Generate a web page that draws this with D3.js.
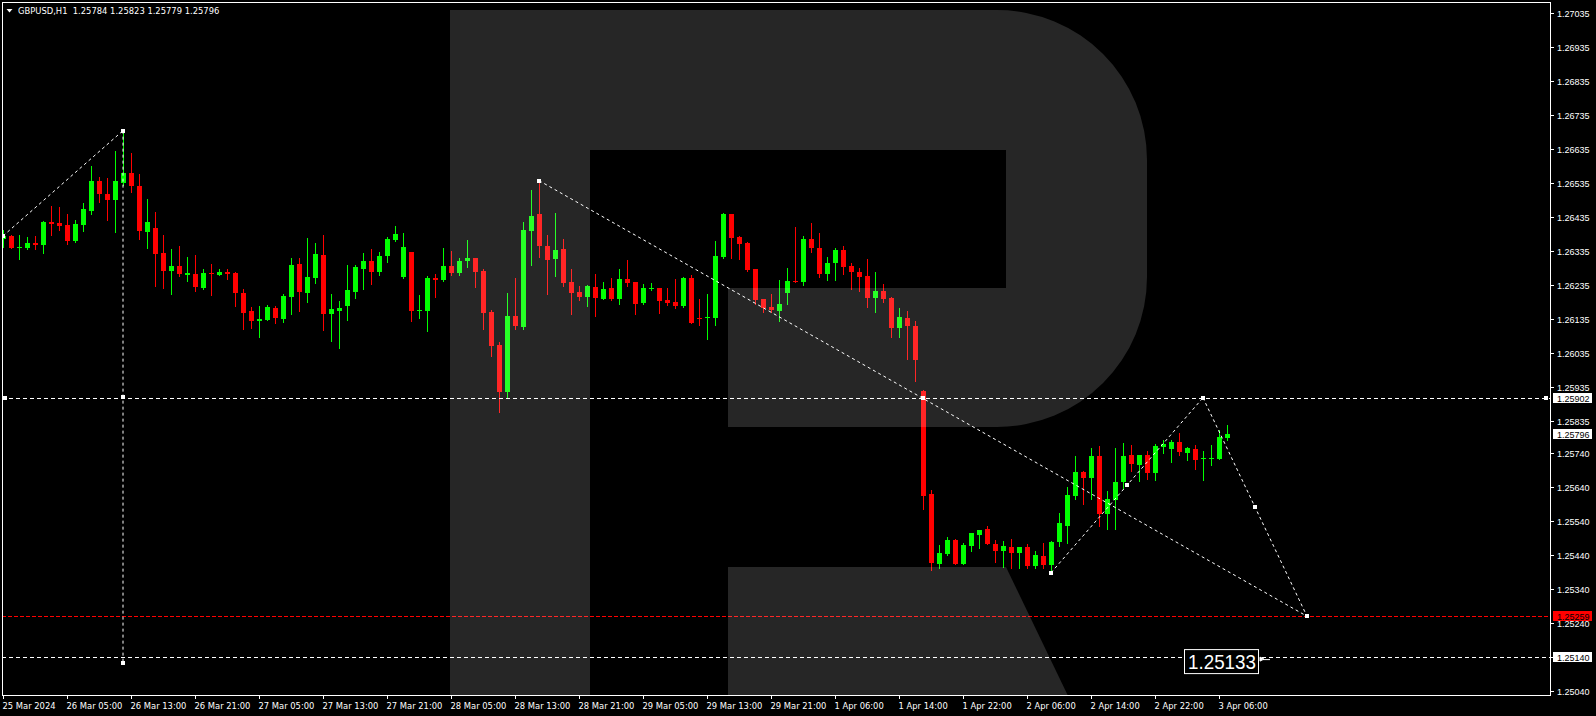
<!DOCTYPE html>
<html><head><meta charset="utf-8">
<script src="https://cdn.jsdelivr.net/npm/d3@7"></script>
<style>html,body{margin:0;padding:0;background:#000;overflow:hidden}</style>
</head><body>
<svg id="c" width="1596" height="716"></svg>
<script>
// ---- DATA (GBPUSD H1, 25 Mar 2024 21:00 -> 3 Apr 2024) ----
const opens = [1.26370,1.26378,1.26345,1.26343,1.26357,1.26352,1.26419,1.26416,1.26410,1.26364,
1.26411,1.26452,1.26540,1.26501,1.26485,1.26535,1.26563,1.26525,1.26391,1.26402,
1.26328,1.26276,1.26290,1.26263,1.26266,1.26226,1.26269,1.26264,1.26272,1.26269,
1.26210,1.26157,1.26129,1.26132,1.26166,1.26135,1.26199,1.26296,1.26211,1.26255,
1.26322,1.26147,1.26158,1.26173,1.26214,1.26282,1.26304,1.26273,1.26320,1.26366,
1.26257,1.26331,1.26158,1.26158,1.26255,1.26249,1.26290,1.26270,1.26305,1.26313,
1.26275,1.26154,1.26057,1.25920,1.26143,1.26111,1.26394,1.26443,1.26349,1.26311,
1.26340,1.26243,1.26213,1.26199,1.26228,1.26194,1.26225,1.26194,1.26252,1.26243,
1.26182,1.26224,1.26225,1.26190,1.26184,1.26173,1.26254,1.26137,1.26138,1.26138,
1.26316,1.26443,1.26375,1.26357,1.26281,1.26193,1.26169,1.26158,1.26211,1.26246,
1.26243,1.26369,1.26343,1.26267,1.26299,1.26337,1.26290,1.26272,1.26260,1.26196,
1.26216,1.26196,1.26108,1.26137,1.26113,1.25922,1.25619,1.25414,1.25443,1.25484,
1.25414,1.25467,1.25499,1.25516,1.25473,1.25452,1.25463,1.25444,1.25463,1.25408,
1.25437,1.25411,1.25478,1.25526,1.25614,1.25684,1.25667,1.25731,1.25561,1.25602,
1.25655,1.25734,1.25705,1.25734,1.25682,1.25758,1.25752,1.25772,1.25738,1.25752,
1.25722,1.25723,1.25723,1.25784];
const highs = [1.26396,1.26381,1.26381,1.26376,1.26378,1.26422,1.26466,1.26463,1.26443,1.26425,
1.26475,1.26584,1.26551,1.26549,1.26628,1.26688,1.26622,1.26560,1.26487,1.26449,
1.26381,1.26340,1.26349,1.26316,1.26322,1.26281,1.26296,1.26281,1.26281,1.26271,
1.26222,1.26169,1.26172,1.26174,1.26172,1.26207,1.26313,1.26313,1.26372,1.26357,
1.26381,1.26207,1.26187,1.26293,1.26293,1.26328,1.26340,1.26331,1.26375,1.26407,
1.26387,1.26332,1.26204,1.26260,1.26266,1.26343,1.26334,1.26313,1.26366,1.26314,
1.26281,1.26160,1.26066,1.26210,1.26254,1.26419,1.26513,1.26540,1.26381,1.26446,
1.26369,1.26281,1.26231,1.26234,1.26266,1.26243,1.26254,1.26281,1.26307,1.26244,
1.26237,1.26240,1.26226,1.26225,1.26252,1.26257,1.26263,1.26193,1.26207,1.26363,
1.26446,1.26444,1.26378,1.26359,1.26282,1.26194,1.26207,1.26249,1.26284,1.26404,
1.26378,1.26416,1.26387,1.26316,1.26343,1.26349,1.26299,1.26284,1.26310,1.26272,
1.26237,1.26198,1.26166,1.26157,1.26128,1.25925,1.25631,1.25469,1.25493,1.25487,
1.25475,1.25505,1.25514,1.25525,1.25484,1.25481,1.25487,1.25464,1.25472,1.25452,
1.25475,1.25481,1.25563,1.25640,1.25731,1.25687,1.25754,1.25760,1.25628,1.25754,
1.25769,1.25763,1.25735,1.25746,1.25766,1.25778,1.25778,1.25799,1.25757,1.25763,
1.25746,1.25763,1.25807,1.25823];
const lows = [1.26347,1.26342,1.26311,1.26341,1.26341,1.26329,1.26381,1.26397,1.26355,1.26361,
1.26394,1.26444,1.26479,1.26426,1.26391,1.26528,1.26508,1.26370,1.26344,1.26232,
1.26226,1.26208,1.26261,1.26247,1.26217,1.26223,1.26205,1.26263,1.26252,1.26173,
1.26105,1.26108,1.26082,1.26130,1.26123,1.26126,1.26147,1.26158,1.26185,1.26241,
1.26102,1.26070,1.26049,1.26132,1.26196,1.26223,1.26238,1.26264,1.26302,1.26363,
1.26254,1.26129,1.26138,1.26099,1.26199,1.26247,1.26264,1.26264,1.26288,1.26229,
1.26105,1.26026,1.25860,1.25905,1.26105,1.26105,1.26294,1.26317,1.26207,1.26261,
1.26232,1.26149,1.26191,1.26173,1.26144,1.26192,1.26190,1.26179,1.26232,1.26147,
1.26179,1.26220,1.26152,1.26176,1.26167,1.26170,1.26122,1.26117,1.26076,1.26117,
1.26314,1.26314,1.26311,1.26276,1.26179,1.26155,1.26155,1.26129,1.26179,1.26242,
1.26235,1.26332,1.26258,1.26249,1.26249,1.26267,1.26223,1.26217,1.26170,1.26155,
1.26185,1.26082,1.26082,1.26017,1.25952,1.25576,1.25396,1.25402,1.25440,1.25412,
1.25413,1.25452,1.25461,1.25472,1.25420,1.25405,1.25402,1.25402,1.25402,1.25400,
1.25400,1.25396,1.25466,1.25476,1.25605,1.25588,1.25605,1.25526,1.25517,1.25517,
1.25635,1.25685,1.25658,1.25664,1.25661,1.25738,1.25714,1.25735,1.25720,1.25691,
1.25661,1.25705,1.25722,1.25779];
const closes = [1.26378,1.26344,1.26346,1.26357,1.26352,1.26419,1.26414,1.26408,1.26364,1.26413,
1.26457,1.26540,1.26502,1.26485,1.26540,1.26563,1.26526,1.26394,1.26419,1.26326,
1.26276,1.26290,1.26267,1.26269,1.26229,1.26269,1.26267,1.26272,1.26267,1.26211,
1.26152,1.26128,1.26134,1.26169,1.26138,1.26201,1.26293,1.26214,1.26257,1.26325,
1.26149,1.26163,1.26166,1.26219,1.26287,1.26304,1.26273,1.26319,1.26369,1.26384,
1.26346,1.26158,1.26160,1.26254,1.26249,1.26290,1.26270,1.26304,1.26313,1.26273,
1.26152,1.26055,1.25920,1.26143,1.26114,1.26396,1.26437,1.26349,1.26307,1.26337,
1.26240,1.26210,1.26199,1.26231,1.26196,1.26222,1.26192,1.26252,1.26240,1.26179,
1.26225,1.26225,1.26188,1.26182,1.26173,1.26254,1.26123,1.26135,1.26140,1.26319,
1.26443,1.26373,1.26355,1.26278,1.26191,1.26167,1.26161,1.26178,1.26246,1.26243,
1.26369,1.26344,1.26267,1.26298,1.26337,1.26288,1.26273,1.26258,1.26196,1.26216,
1.26194,1.26108,1.26140,1.26114,1.26014,1.25614,1.25417,1.25446,1.25484,1.25414,
1.25469,1.25504,1.25513,1.25473,1.25452,1.25467,1.25444,1.25463,1.25408,1.25440,
1.25411,1.25478,1.25534,1.25616,1.25684,1.25667,1.25731,1.25561,1.25604,1.25654,
1.25731,1.25708,1.25734,1.25682,1.25760,1.25766,1.25772,1.25741,1.25754,1.25720,
1.25724,1.25725,1.25787,1.25796];

const timeLabels = ["25 Mar 2024","26 Mar 05:00","26 Mar 13:00","26 Mar 21:00","27 Mar 05:00","27 Mar 13:00",
"27 Mar 21:00","28 Mar 05:00","28 Mar 13:00","28 Mar 21:00","29 Mar 05:00","29 Mar 13:00","29 Mar 21:00",
"1 Apr 06:00","1 Apr 14:00","1 Apr 22:00","2 Apr 06:00","2 Apr 14:00","2 Apr 22:00","3 Apr 06:00"];
const timeLabelBars = [0,8,16,24,32,40,48,56,64,72,80,88,96,104,112,120,128,136,144,152];
const priceTicks = [1.27035,1.26935,1.26835,1.26735,1.26635,1.26535,1.26435,1.26335,1.26235,1.26135,
1.26035,1.25935,1.25835,1.25740,1.25640,1.25540,1.25440,1.25340,1.25240,1.25140,1.25040];

const headerText = "GBPUSD,H1  1.25784 1.25823 1.25779 1.25796";
const resistLevel = 1.25902, targetLevel = 1.25259, supportLevel = 1.25140, lastPrice = 1.25796;
const noteLabel = "1.25133";
// analysis lines: [bar, price] pairs
const lineA = [[0,1.26378],[15,1.26688]];
const lineV = [[15,1.26688],[15,1.25122]];
const lineB = [[67,1.26541],[163,1.25259]];
const zig1 = [[131,1.25387],[150,1.25902]];
const zig2 = [[150,1.25902],[163,1.25259]];
const noteAnchor = [157, 1.25133];

// ---- CHART ----
const svg = d3.select("#c");
const L = 2, R = 1550, T = 2, B = 695;
const x = d3.scaleLinear().domain([0, 1]).range([3, 11]);
const y = d3.scaleLinear().domain([1.25040, 1.27035]).range([690.7, 12.7]);

svg.append("rect").attr("width",1596).attr("height",716).attr("fill","#000");
svg.append("defs").append("clipPath").attr("id","plot")
  .append("rect").attr("x",L).attr("y",T).attr("width",R-L).attr("height",B-T);

const plot = svg.append("g").attr("clip-path","url(#plot)");
const cx = i => Math.round(x(i)) + 0.5;

const bars = d3.range(opens.length).map(i => ({i, o:opens[i], h:highs[i], l:lows[i], c:closes[i]}));
const up = "#00ff00", dn = "#ff0000";
const cg = plot.append("g");
cg.selectAll("line.w").data(bars).join("line")
  .attr("x1", d=>cx(d.i)).attr("x2", d=>cx(d.i))
  .attr("y1", d=>Math.round(y(d.h))).attr("y2", d=>Math.round(y(d.l))+1)
  .attr("stroke", d=> d.c>=d.o?up:dn).attr("stroke-width",1);
cg.selectAll("rect.b").data(bars).join("rect")
  .attr("x", d=>cx(d.i)-2.5).attr("width",5)
  .attr("y", d=>Math.round(y(Math.max(d.o,d.c))))
  .attr("height", d=>Math.max(1, Math.round(y(Math.min(d.o,d.c))) - Math.round(y(Math.max(d.o,d.c)))))
  .attr("fill", d=> d.c>=d.o?up:dn);

// horizontal levels
function hline(p, color, dash){
  plot.append("line").attr("x1",L).attr("x2",R)
    .attr("y1",Math.round(y(p))+0.5).attr("y2",Math.round(y(p))+0.5)
    .attr("stroke",color).attr("stroke-width",1).attr("stroke-dasharray",dash);
}
hline(resistLevel,"#ffffff","4,3");
hline(supportLevel,"#ffffff","4,3");
hline(targetLevel,"#ff0000","4,2");

function tline(pts, mid){
  const [a,b] = pts;
  plot.append("line").attr("x1",x(a[0])).attr("y1",y(a[1])).attr("x2",x(b[0])).attr("y2",y(b[1]))
    .attr("stroke","#fff").attr("stroke-width",1).attr("stroke-dasharray","3,3");
  const ms = [a,b];
  if(mid) ms.push([(a[0]+b[0])/2,(a[1]+b[1])/2]);
  ms.forEach(m => marker(x(m[0]), y(m[1])));
}
function marker(px, py){
  plot.append("rect").attr("x",Math.round(px)-2).attr("y",Math.round(py)-2)
    .attr("width",4).attr("height",4).attr("fill","#fff");
}
tline(lineA,false);
tline(lineV,true);
tline(lineB,true);
tline(zig1,true);
tline(zig2,true);
marker(5, y(resistLevel));
marker(R-4, y(resistLevel));

// note label box
const nx = x(noteAnchor[0]), ny = y(noteAnchor[1]);
plot.append("rect").attr("x",nx-74.5).attr("y",ny-9.5).attr("width",74).attr("height",24)
  .attr("fill","#000").attr("stroke","#fff").attr("stroke-width",1);
plot.append("text").attr("x",nx-71).attr("y",ny+10).attr("fill","#fff")
  .attr("font-family","Liberation Sans, Arial, sans-serif").attr("font-size",21)
  .attr("textLength",68).attr("lengthAdjust","spacingAndGlyphs").text(noteLabel);
plot.append("path").attr("d",`M${nx+1},${ny-2} l4,2 l-4,2 z M${nx+4},${ny+0.5} h7`)
  .attr("fill","#fff").attr("stroke","#fff").attr("stroke-width",1);

// watermark logo (semi-transparent overlay)
const wm = plot.append("g").attr("fill","#fff").attr("fill-opacity",0.15);
wm.append("path").attr("d","M450,10 H997 A150,150 0 0 1 1147,160 V277 A150,150 0 0 1 997,427 H728 V288 H1006 V150 H590 V700 H450 Z");
wm.append("path").attr("d","M728,567 H1006 L1070,700 H728 Z");

// frame
svg.append("rect").attr("x",L+0.5).attr("y",T+0.5).attr("width",R-L).attr("height",B-T)
  .attr("fill","none").attr("stroke","#fff").attr("stroke-width",1);

const font = "Liberation Sans, Arial, sans-serif";
const font2 = "DejaVu Sans, Verdana, sans-serif";
// price axis
const pa = svg.append("g").attr("font-family",font).attr("font-size",9).attr("fill","#fff");
priceTicks.forEach(p => {
  const py = Math.round(y(p))+0.5;
  pa.append("line").attr("x1",R).attr("x2",R+4).attr("y1",py).attr("y2",py).attr("stroke","#fff");
  pa.append("text").attr("x",R+7).attr("y",py+3.3).text(p.toFixed(5));
});
function priceBox(p, bg, fg){
  const py = Math.round(y(p));
  svg.append("rect").attr("x",R+3).attr("y",py-5).attr("width",39).attr("height",10).attr("fill",bg);
  svg.append("text").attr("x",R+7).attr("y",py+3.5).attr("font-family",font).attr("font-size",9)
    .attr("fill",fg).text(p.toFixed(5));
}
priceBox(resistLevel,"#fff","#000");
priceBox(lastPrice,"#fff","#000");
priceBox(targetLevel,"#ff0000","#000");
priceBox(supportLevel,"#fff","#000");

// time axis
const ta = svg.append("g").attr("font-family",font2).attr("font-size",8.4).attr("fill","#fff");
timeLabelBars.forEach((b,k) => {
  const tx = Math.round(x(b))+0.5;
  ta.append("line").attr("x1",tx).attr("x2",tx).attr("y1",B).attr("y2",B+4).attr("stroke","#fff");
  ta.append("text").attr("x",tx-1).attr("y",708.5).text(timeLabels[k]);
});

// header
svg.append("path").attr("d","M6.5,9 L12.5,9 L9.5,12.5 Z").attr("fill","#fff");
svg.append("text").attr("x",18).attr("y",14).attr("font-family",font2).attr("font-size",8.4)
  .attr("fill","#fff").attr("xml:space","preserve").style("white-space","pre").text(headerText);
</script>
</body></html>
